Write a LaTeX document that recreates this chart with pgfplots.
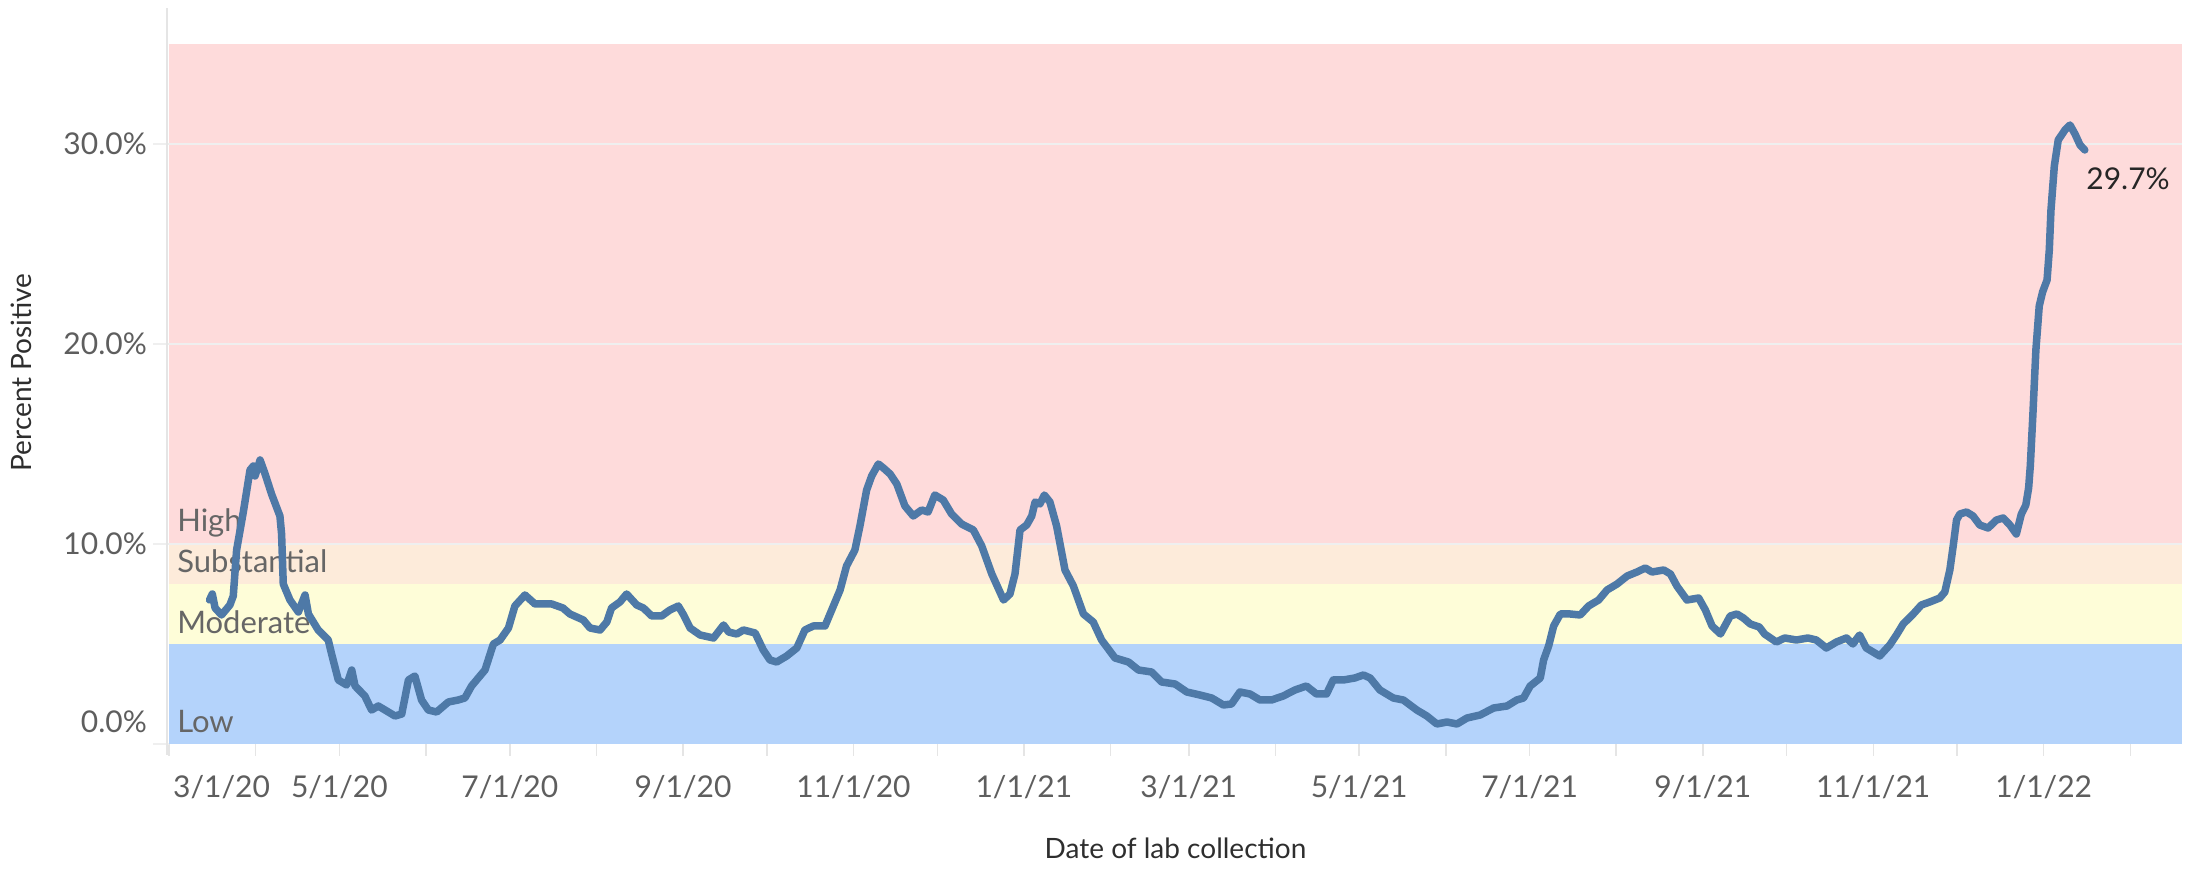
\documentclass[border=0pt]{standalone}
\usepackage{pgfplots}
\pgfplotsset{compat=1.18}
\usepackage{fontspec}
\setmainfont{Lato}
\definecolor{bPink}{HTML}{FEDBDB}
\definecolor{bPeach}{HTML}{FDEBDA}
\definecolor{bYellow}{HTML}{FEFDD8}
\definecolor{bBlue}{HTML}{B4D3FB}
\definecolor{lineBlue}{HTML}{4E79A7}
\definecolor{gridCol}{HTML}{EFEFEF}
\definecolor{tickText}{HTML}{5E5E5E}
\definecolor{titleText}{HTML}{2E2E2E}
\definecolor{bandText}{HTML}{666666}
\begin{document}
\begin{tikzpicture}[x=1pt,y=1pt]
\useasboundingbox (0,0) rectangle (2185,872);
\begin{axis}[
  at={(169pt,128pt)}, anchor=south west,
  scale only axis, width=2013pt, height=736pt,
  xmin=0, xmax=720.5, ymin=0, ymax=36.8,
  clip=false,
  axis lines=left,
  axis line style={draw=none,-},
  tick align=outside,
  major tick length=12pt, minor tick length=12pt,
  tick style={draw=black!10, line width=1.5pt},
  ytick style={draw=none},
  xtick={61,122,184,245,306,365,426,487,549,610,671},
  xticklabels={5/1/20,7/1/20,9/1/20,11/1/20,1/1/21,3/1/21,5/1/21,7/1/21,9/1/21,11/1/21,1/1/22},
  minor xtick={31,92,153,214,275,337,396,457,518,579,640,702},
  extra x ticks={0}, extra x tick labels={3/1/20},
  extra x tick style={xticklabel style={anchor=base west, xshift=4pt}},
  xticklabel style={anchor=base, inner sep=0pt, yshift=-42pt, font=\fontsize{30}{36}\selectfont, text=tickText},
  ytick={10,20,30},
  yticklabels={10.0\%,20.0\%,30.0\%},
  extra y ticks={0}, extra y tick labels={0.0\%},
  extra y tick style={yticklabel style={yshift=22pt}},
  yticklabel style={anchor=east, inner sep=0pt, xshift=-10pt, font=\fontsize{30}{36}\selectfont, text=tickText},
  xlabel={Date of lab collection},
  ylabel={Percent Positive},
  xlabel style={at={(axis description cs:0.5,-0.1413)}, anchor=center, font=\fontsize{28}{34}\selectfont, text=titleText},
  ylabel style={at={(axis description cs:-0.0735,0.505)}, anchor=center, rotate=0, font=\fontsize{28}{34}\selectfont, text=titleText},
]
\fill[bBlue] (axis cs:0,0) rectangle (axis cs:720.5,5);
\fill[bYellow] (axis cs:0,5) rectangle (axis cs:720.5,8);
\fill[bPeach] (axis cs:0,8) rectangle (axis cs:720.5,10);
\fill[bPink] (axis cs:0,10) rectangle (axis cs:720.5,35);
\draw[gridCol, line width=1.5pt] ([xshift=-16pt]axis cs:0,10) -- (axis cs:720.5,10);
\draw[gridCol, line width=1.5pt] ([xshift=-16pt]axis cs:0,20) -- (axis cs:720.5,20);
\draw[gridCol, line width=1.5pt] ([xshift=-16pt]axis cs:0,30) -- (axis cs:720.5,30);
\draw[gridCol, line width=1.5pt] ([xshift=-16pt]axis cs:0,0) -- (axis cs:0,0);
\draw[black!10, line width=1.5pt] ([xshift=-2pt]axis cs:0,36.8) -- ([xshift=-2pt,yshift=-11pt]axis cs:0,0);
\node[anchor=base west, inner sep=0pt, font=\fontsize{31}{37}\selectfont, text=bandText] at (axis cs:2.9,10.62) {High};
\node[anchor=base west, inner sep=0pt, font=\fontsize{31}{37}\selectfont, text=bandText] at (axis cs:2.9,8.57) {Substantial};
\node[anchor=base west, inner sep=0pt, font=\fontsize{31}{37}\selectfont, text=bandText] at (axis cs:2.9,5.5) {Moderate};
\node[anchor=base west, inner sep=0pt, font=\fontsize{31}{37}\selectfont, text=bandText] at (axis cs:2.9,0.57) {Low};
\addplot[lineBlue, line width=7.5pt, line join=round, line cap=round] coordinates {
(14.5,7.2) (15.5,7.5) (16.5,6.8) (18.8,6.45) (21.8,6.95) (23.0,7.4)
(24.2,9.7) (26.6,11.6) (29.0,13.7) (30.2,13.9) (30.8,13.4) (32.6,14.2) (34.4,13.5) (36.7,12.5)
(39.7,11.4) (40.3,10.5) (40.9,8.0) (43.3,7.2) (46.3,6.6) (48.7,7.45) (49.9,6.5) (53.4,5.7)
(57.0,5.2) (58.2,4.5) (60.6,3.2) (63.6,2.95) (65.4,3.7) (66.6,2.9) (70.1,2.4) (72.5,1.7)
(74.9,1.9) (80.9,1.4) (83.3,1.5) (85.7,3.2) (88.0,3.4) (90.4,2.2) (92.8,1.7) (95.8,1.6)
(100.0,2.1) (103.5,2.2) (105.9,2.3) (108.3,2.9) (113.1,3.7) (116.1,5.0) (118.5,5.2) (121.5,5.8)
(123.8,6.9) (127.4,7.45) (131.0,7.0) (137.0,7.0) (141.0,6.8)
(143.5,6.5) (148.3,6.2) (150.7,5.8) (154.3,5.7) (156.7,6.1) (158.4,6.8) (161.4,7.1) (163.8,7.5)
(167.4,6.95) (169.8,6.8) (172.8,6.4) (176.3,6.4) (179.3,6.7) (182.3,6.9) (184.2,6.45) (186.5,5.8)
(190.1,5.45) (194.9,5.3) (198.5,5.95) (200.3,5.6) (203.2,5.5) (205.6,5.7) (209.8,5.55) (212.7,4.7)
(215.1,4.2) (217.5,4.1) (221.1,4.4) (224.7,4.8) (227.6,5.7) (230.6,5.9) (234.8,5.9) (236.6,6.5)
(240.2,7.7) (242.5,8.9) (245.5,9.7) (247.3,10.9) (249.7,12.7) (251.5,13.4) (253.9,14.0) (255.7,13.8)
(258.1,13.5) (260.5,13.0) (263.4,11.9) (266.4,11.4) (269.4,11.7) (271.7,11.6) (274.1,12.45) (277.1,12.2)
(280.1,11.5) (283.7,11.0) (287.9,10.7) (290.9,9.9) (294.5,8.5) (298.7,7.2) (301.0,7.5) (302.8,8.5)
(304.6,10.7) (307.0,10.95) (308.8,11.4) (310.0,12.1) (311.7,12.0) (313.3,12.45) (315.3,12.1) (317.7,10.9)
(320.7,8.7) (323.7,7.9) (327.3,6.5) (330.8,6.1) (333.8,5.2) (338.6,4.3) (343.4,4.1) (347.0,3.7)
(351.7,3.6) (355.3,3.1) (360.1,3.0) (364.3,2.6) (369.0,2.45) (373.2,2.3) (377.4,1.95) (380.3,2.0)
(383.3,2.6) (386.9,2.5) (390.5,2.2) (394.6,2.2) (398.8,2.4) (403.0,2.7) (407.1,2.9) (410.7,2.5)
(414.3,2.5) (416.7,3.2) (420.3,3.2) (424.4,3.3) (427.5,3.45) (429.9,3.3) (433.4,2.7) (438.2,2.3)
(441.8,2.2) (446.6,1.7) (450.2,1.4) (453.8,1.0) (457.4,1.1) (461.0,1.0) (464.6,1.3) (469.3,1.45)
(474.1,1.8) (478.9,1.9) (482.4,2.2) (484.8,2.3) (487.2,2.9) (490.8,3.3) (492.0,4.2) (493.8,4.9)
(495.6,5.9) (498.0,6.5) (501.5,6.5) (505.1,6.45) (508.1,6.9) (511.7,7.2) (514.7,7.7) (518.3,8.0)
(521.9,8.4) (525.4,8.6) (528.4,8.8) (530.8,8.6) (535.0,8.7) (537.4,8.5) (539.7,7.9) (543.3,7.2)
(547.5,7.3) (549.9,6.7) (552.3,5.9) (555.3,5.5) (558.8,6.4) (561.2,6.5) (563.5,6.3) (566.0,6.0)
(569.2,5.85) (571.1,5.5) (575.3,5.1) (578.3,5.3) (582.5,5.2) (586.6,5.3) (589.6,5.2) (593.2,4.8)
(596.8,5.1) (600.4,5.3) (602.7,5.0) (605.1,5.45) (607.5,4.8) (612.3,4.4) (615.9,4.95) (618.3,5.45)
(620.7,6.0) (624.3,6.5) (627.2,6.95) (630.2,7.1) (633.8,7.3) (635.6,7.6) (637.4,8.7) (638.6,9.9)
(639.8,11.2) (641.0,11.5) (643.4,11.6) (645.7,11.4) (648.1,10.95) (651.1,10.8) (654.1,11.2) (656.5,11.3)
(658.9,10.95) (661.2,10.5) (663.0,11.5) (664.6,11.95) (665.6,12.8) (666.2,13.9) (667.1,16.4) (668.2,19.7)
(669.4,21.9) (670.6,22.6) (672.2,23.2) (673.0,24.7) (673.6,26.7) (674.8,28.9) (676.2,30.2) (678.6,30.7)
(680.4,30.95) (682.2,30.5) (684.0,29.95) (685.7,29.7)
};
\node[anchor=west, inner sep=0pt, font=\fontsize{30}{36}\selectfont, text=black!85] at (axis cs:686.2,28.25) {29.7\%};
\end{axis}
\end{tikzpicture}
\end{document}
